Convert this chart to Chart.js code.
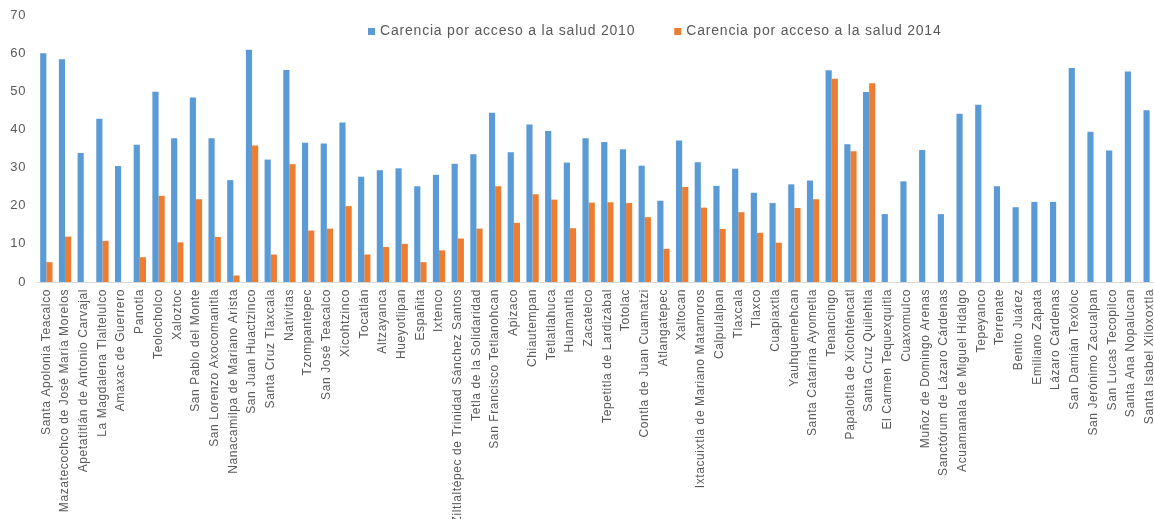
<!DOCTYPE html>
<html lang="es">
<head>
    <meta charset="UTF-8">
    <title>Carencia por acceso a la salud</title>
    <script src="https://cdn.jsdelivr.net/npm/chart.js"></script>
    <style>
        body{
            margin: 0;
            overflow: hidden;
            background-color: white;
        }
        .grafica{
            position: relative;
            width: 1154px;
            height: 519px;
            overflow: hidden;
        }
    </style>
</head>
<body>
    <div class="grafica">
        <!-- el area del grafico original se sale un poco por la derecha -->
        <canvas id="miCanvas" width="1159" height="519"></canvas>
    </div>
    <script>
        // municipios
        const municipios = [
            "Santa Apolonia Teacalco", "Mazatecochco de José María Morelos", "Apetatitlán de Antonio Carvajal",
            "La Magdalena Tlaltelulco", "Amaxac de Guerrero", "Panotla", "Teolocholco", "Xaloztoc",
            "San Pablo del Monte", "San Lorenzo Axocomanitla", "Nanacamilpa de Mariano Arista",
            "San Juan Huactzinco", "Santa Cruz Tlaxcala", "Natívitas", "Tzompantepec", "San José Teacalco",
            "Xicohtzinco", "Tocatlán", "Altzayanca", "Hueyotlipan", "Españita", "Ixtenco",
            "Ziltlaltépec de Trinidad Sánchez Santos", "Tetla de la Solidaridad", "San Francisco Tetlanohcan",
            "Apizaco", "Chiautempan", "Tetlatlahuca", "Huamantla", "Zacatelco", "Tepetitla de Lardizábal",
            "Totolac", "Contla de Juan Cuamatzi", "Atlangatepec", "Xaltocan", "Ixtacuixtla de Mariano Matamoros",
            "Calpulalpan", "Tlaxcala", "Tlaxco", "Cuapiaxtla", "Yauhquemehcan", "Santa Catarina Ayometla",
            "Tenancingo", "Papalotla de Xicohténcatl", "Santa Cruz Quilehtla", "El Carmen Tequexquitla",
            "Cuaxomulco", "Muñoz de Domingo Arenas", "Sanctórum de Lázaro Cárdenas", "Acuamanala de Miguel Hidalgo",
            "Tepeyanco", "Terrenate", "Benito Juárez", "Emiliano Zapata", "Lázaro Cárdenas", "San Damián Texóloc",
            "San Jerónimo Zacualpan", "San Lucas Tecopilco", "Santa Ana Nopalucan", "Santa Isabel Xiloxoxtla"
        ];

        const salud2010 = [
            60, 58.4, 33.8, 42.8, 30.4, 36, 49.9, 37.7, 48.4, 37.7,
            26.7, 60.9, 32.1, 55.6, 36.5, 36.3, 41.8, 27.6, 29.3, 29.8,
            25.1, 28.1, 31, 33.5, 44.4, 34, 41.3, 39.6, 31.3, 37.7,
            36.7, 34.8, 30.5, 21.3, 37.1, 31.4, 25.2, 29.7, 23.4, 20.7,
            25.6, 26.6, 55.5, 36.1, 49.8, 17.8, 26.4, 34.6, 17.8, 44.1,
            46.5, 25.1, 19.6, 21, 21, 56.1, 39.4, 34.5, 55.2, 45
        ];

        const salud2014 = [
            5.2, 11.9, null, 10.8, null, 6.5, 22.6, 10.4, 21.7, 11.8,
            1.7, 35.8, 7.2, 30.9, 13.5, 14, 19.9, 7.2, 9.2, 10,
            5.2, 8.3, 11.4, 14, 25.1, 15.5, 23, 21.6, 14.1, 20.8,
            20.9, 20.7, 17, 8.7, 24.9, 19.5, 13.9, 18.3, 12.9, 10.3,
            19.4, 21.7, 53.3, 34.3, 52.1, null, null, null, null, null,
            null, null, null, null, null, null, null, null, null, null
        ];

        const etiquetasY = [0, 10, 20, 30, 40, 50, 60, 70];

        const gris = "#595959";
        const fuente = "'Liberation Sans', Arial, sans-serif";

        // el texto del original es algo mas espaciado
        const espaciado = {
            id: "espaciado",
            beforeLayout(chart){ chart.ctx.letterSpacing = "0.6px"; },
            beforeDraw(chart){ chart.ctx.letterSpacing = "0.6px"; }
        };

        // leyenda dibujada dentro del area, como en el original
        const leyenda = {
            id: "leyenda",
            afterDraw(chart){
                const ctx = chart.ctx;
                ctx.save();
                ctx.font = "14px " + fuente;
                ctx.letterSpacing = "0.8px";
                ctx.textBaseline = "middle";
                let x = 368;
                const y = 31.5;
                chart.data.datasets.forEach((ds) => {
                    ctx.fillStyle = ds.backgroundColor;
                    ctx.fillRect(x, y - 3.5, 7, 7);
                    ctx.fillStyle = gris;
                    ctx.fillText(ds.label, x + 12, y);
                    x += 12 + ctx.measureText(ds.label).width + 39;
                });
                ctx.restore();
            }
        };

        const miCanvas = document.getElementById("miCanvas").getContext("2d");
        new Chart(miCanvas, {
            type: "bar",
            data: {
                labels: municipios,
                datasets: [
                    {
                        label: "Carencia por acceso a la salud 2010",
                        data: salud2010,
                        backgroundColor: "#5B9BD5"
                    },
                    {
                        label: "Carencia por acceso a la salud 2014",
                        data: salud2014,
                        backgroundColor: "#ED7D31"
                    }
                ]
            },
            options: {
                responsive: false,
                animation: false,
                layout: {
                    padding: {top: 15, left: 0, right: 0, bottom: 0}
                },
                datasets: {
                    bar: {
                        categoryPercentage: 0.66,
                        barPercentage: 1.0
                    }
                },
                plugins: {
                    legend: {display: false},
                    tooltip: {enabled: false}
                },
                scales: {
                    x: {
                        grid: {display: false, drawTicks: false},
                        border: {display: true, color: "#d9d9d9"},
                        afterFit(scale){
                            scale.height = 237;
                            scale.paddingRight = 0;
                            scale.paddingLeft = 0;
                        },
                        ticks: {
                            autoSkip: false,
                            maxRotation: 90,
                            minRotation: 90,
                            padding: 7,
                            color: gris,
                            font: {family: fuente, size: 12}
                        }
                    },
                    y: {
                        min: 0,
                        max: 70,
                        grid: {display: false, drawTicks: false},
                        border: {display: false},
                        afterFit(scale){
                            scale.width = 37;
                            scale.paddingTop = 0;
                            scale.paddingBottom = 0;
                        },
                        afterBuildTicks(scale){
                            scale.ticks = etiquetasY.map((v) => ({value: v}));
                        },
                        ticks: {
                            padding: 11,
                            color: gris,
                            font: {family: fuente, size: 13}
                        }
                    }
                }
            },
            plugins: [espaciado, leyenda]
        });
    </script>
</body>
</html>
